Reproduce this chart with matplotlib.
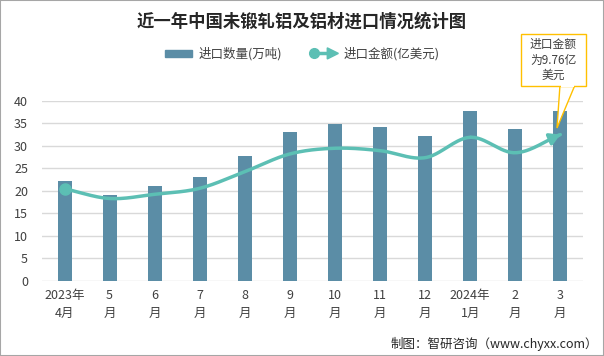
import matplotlib
matplotlib.use("Agg")
import matplotlib.pyplot as plt
from matplotlib.patches import Rectangle, Polygon, FancyArrow, Circle
from matplotlib.lines import Line2D
from matplotlib.legend_handler import HandlerBase
import numpy as np

plt.rcParams['font.family'] = ['Noto Sans CJK SC', 'DejaVu Sans']

# 数据
months = ["2023年\n4月", "5\n月", "6\n月", "7\n月", "8\n月", "9\n月",
          "10\n月", "11\n月", "12\n月", "2024年\n1月", "2\n月", "3\n月"]
volume = [22.2, 19.1, 21.1, 23.1, 27.8, 33.1, 34.9, 34.2, 32.2, 37.8, 33.8, 37.8]
amount = [6.15, 5.5, 5.78, 6.18, 7.29, 8.47, 8.85, 8.69, 8.22, 9.58, 8.55, 9.76]
yticks = [0, 5, 10, 15, 20, 25, 30, 35, 40]

bar_color = "#5B8DA6"
line_color = "#5CBFB4"
text_color = "#404040"


def catmull_rom(x, y, n=30):
    # 平滑曲线（类似 Excel 平滑线）
    px = np.concatenate([[2 * x[0] - x[1]], x, [2 * x[-1] - x[-2]]])
    py = np.concatenate([[2 * y[0] - y[1]], y, [2 * y[-1] - y[-2]]])
    xs, ys = [], []
    t = np.linspace(0, 1, n)
    for i in range(1, len(px) - 2):
        for p, out in ((px, xs), (py, ys)):
            p0, p1, p2, p3 = p[i - 1], p[i], p[i + 1], p[i + 2]
            out.extend(0.5 * ((2 * p1) + (-p0 + p2) * t
                              + (2 * p0 - 5 * p1 + 4 * p2 - p3) * t ** 2
                              + (-p0 + 3 * p1 - 3 * p2 + p3) * t ** 3))
    return np.array(xs), np.array(ys)


class ArrowLineHandler(HandlerBase):
    # 图例：左端圆点，右端箭头
    def create_artists(self, legend, orig_handle, xdescent, ydescent,
                       width, height, fontsize, trans):
        yc = height / 2 - ydescent
        x0 = -xdescent
        line = Line2D([x0 + 3, x0 + width - 5], [yc, yc], color=line_color, lw=2.5,
                      transform=trans)
        dot = Line2D([x0 + 3], [yc], marker='o', markersize=7, color=line_color,
                     transform=trans)
        head = Polygon([(x0 + width - 7, yc + 4), (x0 + width + 1, yc),
                        (x0 + width - 7, yc - 4)], closed=True, color=line_color,
                       transform=trans)
        return [line, dot, head]


fig = plt.figure(figsize=(6.04, 3.56), dpi=100)
fig.patches.append(Rectangle((0, 0), 1, 1, transform=fig.transFigure,
                             fill=False, edgecolor="#A6A6A6", linewidth=1.5))

ax = fig.add_axes([0.0695, 0.2107, 0.8955, 0.5056])
x = np.arange(len(months))
ax.bar(x, volume, width=0.31, color=bar_color, zorder=2)
ax.set_xlim(-0.5, len(months) - 0.5)
ax.set_ylim(0, 40)
ax.set_yticks(yticks)
ax.set_yticklabels([str(v) for v in yticks], fontsize=9, color=text_color)
ax.set_xticks(x)
ax.set_xticklabels(months, fontsize=9, color=text_color, linespacing=1.5)
ax.tick_params(length=0, pad=6)
ax.tick_params(axis='y', pad=10)
ax.grid(axis='y', color="#D9D9D9", linewidth=1, zorder=0)
for s in ax.spines.values():
    s.set_visible(False)

ax2 = ax.twinx()
ax2.set_ylim(0, 12)
ax2.set_yticks([])
for s in ax2.spines.values():
    s.set_visible(False)
sx, sy = catmull_rom(x.astype(float), np.array(amount))
ax2.plot(sx, sy, color=line_color, linewidth=2.5, zorder=3, solid_capstyle='round')
ax2.plot(x[0], amount[0], 'o', color=line_color, markersize=8, zorder=4)
ax2.annotate("", xy=(sx[-1], sy[-1]), xytext=(sx[-4], sy[-4]),
             arrowprops=dict(arrowstyle="-|>,head_length=0.6,head_width=0.35",
                             color=line_color, lw=2.5))

fig.text(0.5, 0.94, "近一年中国未锻轧铝及铝材进口情况统计图", ha='center', va='center',
         fontsize=12.5, fontweight='bold', color="#262626")

# 图例
h1 = Rectangle((0, 0), 1, 1, color=bar_color)
h2 = Line2D([0], [0], color=line_color)
fig.legend([h1, h2], ["进口数量(万吨)", "进口金额(亿美元)"], loc='center',
           bbox_to_anchor=(0.5, 0.848), ncol=2, frameon=False, fontsize=9,
           labelcolor=text_color, handlelength=2.2, columnspacing=2.2,
           handletextpad=0.5, handleheight=0.5,
           handler_map={h2: ArrowLineHandler()})

# 标注框
W, H = 604, 356
fig.patches.append(Polygon([(560 / W, 1 - 85 / H), (575 / W, 1 - 85 / H), (557 / W, 1 - 128 / H)],
                           closed=True, transform=fig.transFigure,
                           facecolor='white', edgecolor="#FFC000", linewidth=1, zorder=5))
fig.patches.append(Rectangle((521 / W, 1 - 86 / H), 65 / W, 52 / H,
                             transform=fig.transFigure, facecolor='white',
                             edgecolor="#FFC000", linewidth=1, zorder=6))
fig.patches.append(Rectangle((561 / W, 1 - 87 / H), 13 / W, 3 / H,
                             transform=fig.transFigure, facecolor='white',
                             edgecolor='none', zorder=7))
fig.text(553 / W, 1 - 60 / H, "进口金额\n为9.76亿\n美元", ha='center', va='center',
         fontsize=8.5, color=text_color, linespacing=1.25, zorder=8)

fig.text(0.99, 0.035, "制图：智研咨询（www.chyxx.com）", ha='right', va='center',
         fontsize=9, color="#262626")

fig.savefig("out.png", dpi=100)
